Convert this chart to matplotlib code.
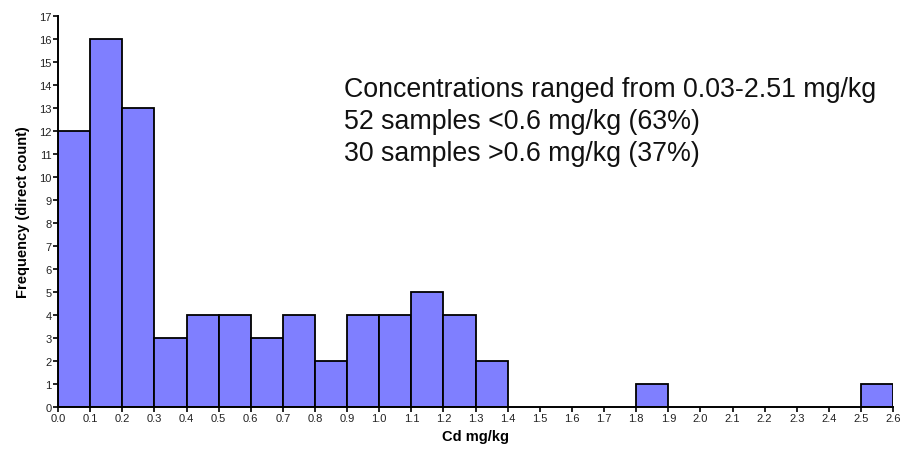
import matplotlib
matplotlib.use("Agg")
import matplotlib.pyplot as plt
import numpy as np

plt.rcParams['font.family'] = ['Liberation Sans', 'DejaVu Sans']

bin_edges = [round(0.1 * i, 1) for i in range(27)]
counts = [12, 16, 13, 3, 4, 4, 3, 4, 2, 4, 4, 5, 4, 2, 0, 0, 0, 0, 1, 0, 0, 0, 0, 0, 0, 1]
x_ticks = bin_edges
y_ticks = list(range(0, 18))
annotation = ["Concentrations ranged from 0.03-2.51 mg/kg",
              "52 samples <0.6 mg/kg (63%)",
              "30 samples >0.6 mg/kg (37%)"]

fig = plt.figure(figsize=(9.04, 4.52), dpi=100)
ax = fig.add_axes([0.0642, 0.0973, 0.9238, 0.8651])

lefts = np.array(bin_edges[:-1])
widths = np.diff(bin_edges)
mask = np.array(counts) > 0
ax.bar(lefts[mask], np.array(counts)[mask], width=widths[mask], align='edge',
       color='#7f7fff', edgecolor='black', linewidth=1.3)

ax.set_xlim(0, 2.6)
ax.set_ylim(0, 17)
ax.set_xticks(x_ticks)
ax.set_xticklabels([f"{v:.1f}" for v in x_ticks], fontsize=8, color='#222222')
ax.set_yticks(y_ticks)
ax.set_yticklabels([str(v) for v in y_ticks], fontsize=8, color='#222222')
ax.tick_params(direction='out', length=3.5, width=1.2, pad=1)
for s in ['top', 'right']:
    ax.spines[s].set_visible(False)
for s in ['left', 'bottom']:
    ax.spines[s].set_linewidth(1.4)

ax.set_xlabel("Cd mg/kg", fontsize=10.5, fontweight='bold', labelpad=4)
ax.set_ylabel("Frequency (direct count)", fontsize=10.5, fontweight='bold', labelpad=7)

ax.text(0.381, 0.83, "\n".join(annotation), transform=fig.transFigure,
        fontsize=19.3, va='top', ha='left', linespacing=1.3, color='#111111')

fig.savefig("out.png", dpi=100)
